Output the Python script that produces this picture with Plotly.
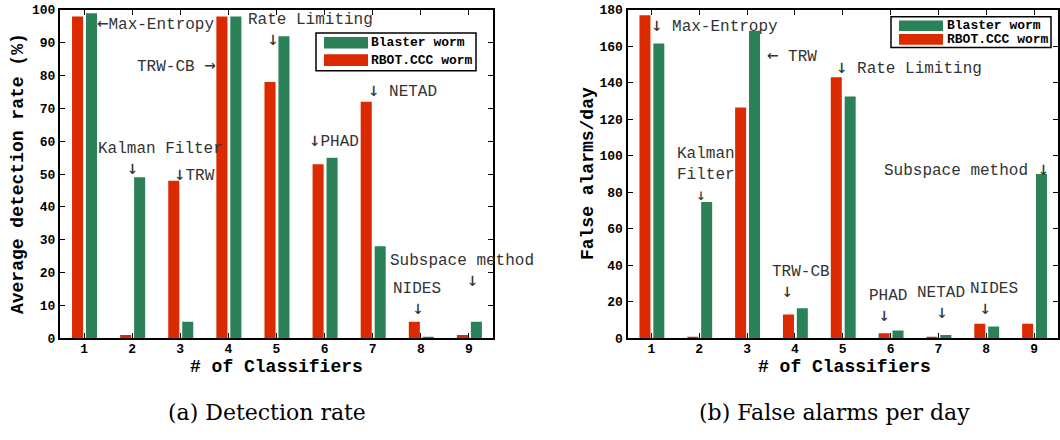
import plotly.graph_objects as go

W, H = 1060, 440

classifiers = [1, 2, 3, 4, 5, 6, 7, 8, 9]
det_rbot = [98, 1, 48, 98, 78, 53, 72, 5, 1]
det_blaster = [99, 49, 5, 98, 92, 55, 28, 0.3, 5]
fa_rbot = [177, 0.5, 126.5, 13, 143, 2.7, 0.8, 8, 8]
fa_blaster = [161.5, 74.7, 168.5, 16.5, 132.5, 4.3, 1.8, 6.5, 90]

series_names = ["Blaster worm", "RBOT.CCC worm"]
captions = ["(a) Detection rate", "(b) False alarms per day"]

RED = "#dc2a00"
GREEN = "#2b8259"
MONO = "Liberation Mono, Courier New, monospace"
ARROWFONT = "DejaVu Sans Mono"
SERIF = "DejaVu Serif, Liberation Serif, serif"
NB = "\u00a0"


def px(x, y):
    return x / W, 1 - y / H


fig = go.Figure()

for xa, ya, rbot, blaster in [("x", "y", det_rbot, det_blaster), ("x2", "y2", fa_rbot, fa_blaster)]:
    fig.add_trace(go.Bar(x=classifiers, y=rbot, offset=-0.25, width=0.23, marker_color=RED,
                         marker_line_width=0, xaxis=xa, yaxis=ya, showlegend=False, name=series_names[1]))
    fig.add_trace(go.Bar(x=classifiers, y=blaster, offset=0.04, width=0.23, marker_color=GREEN,
                         marker_line_width=0, xaxis=xa, yaxis=ya, showlegend=False, name=series_names[0]))

ydom = [1 - 344 / H, 1 - 4 / H]
axis_common = dict(showline=True, linecolor="black", linewidth=2, mirror="ticks", ticks="inside",
                   ticklen=5, tickwidth=1, tickcolor="black", showgrid=False, zeroline=False,
                   ticklabeloverflow="allow",
                   tickfont=dict(family=MONO, size=13, color="black", weight="bold"))

fig.update_layout(
    width=W, height=H, margin=dict(l=0, r=0, t=0, b=0),
    paper_bgcolor="white", plot_bgcolor="white", barmode="overlay",
    xaxis=dict(domain=[60 / W, 493 / W], range=[0.5, 9.5], tickvals=classifiers, anchor="y",
               ticklabelstandoff=-3, **axis_common),
    yaxis=dict(domain=ydom, range=[0, 100], tickvals=list(range(0, 101, 10)), anchor="x", **axis_common),
    xaxis2=dict(domain=[627.5 / W, 1058 / W], range=[0.5, 9.5], tickvals=classifiers, anchor="y2",
                ticklabelstandoff=-3, **axis_common),
    yaxis2=dict(domain=ydom, range=[0, 180], tickvals=list(range(0, 181, 20)), anchor="x2", **axis_common),
)

annotations = []
shapes = []


def arrows(text, asize):
    for a in "←→↓":
        text = text.replace(a, f'<span style="font-family:{ARROWFONT};font-size:{asize}px">{a}</span>')
    return text


def note(text, x, y, anchor="left", size=16, color="#333333", family=MONO, weight="normal", angle=0,
         align="left", asize=19):
    xp, yp = px(x, y)
    annotations.append(dict(text=arrows(text, asize), x=xp, y=yp, xref="paper", yref="paper", xanchor=anchor,
                            yanchor="middle", showarrow=False, textangle=angle, align=align,
                            font=dict(family=family, size=size, color=color, weight=weight)))


def down(label, spaces):
    return label + "<br>" + NB * spaces + "↓"


# Left chart labels
note("←Max-Entropy", 95, 17)
note("TRW-CB →", 218, 61, anchor="right")
note(down("Rate Limiting", 2), 246, 25)
note(down("Kalman Filter", 3), 96, 158.5)
note("↓TRW", 172, 173)
note("↓PHAD", 307, 138)
note("↓ NETAD", 366, 86)
note(down("Subspace method", 8), 388, 274.5)
note(down("NIDES", 2), 391, 304)

# Right chart labels
note("↓ Max-Entropy", 649, 19)
note("← TRW", 765, 50)
note("↓ Rate Limiting", 834, 63)
note("Kalman<br>Filter<br>" + NB * 2 + "↓", 675, 175, asize=16)
note(down("TRW-CB", 1), 770, 286)
note("Subspace method ↓", 1051, 168, anchor="right")
note(down("PHAD", 1), 867, 311)
note(down("NETAD", 2), 915, 307.5)
note(down("NIDES", 1), 968, 304)

# Axis titles
note("Average detection rate (%)", 18, 174, anchor="center", size=18, color="black", weight="bold", angle=-90)
note("# of Classifiers", 276, 374, anchor="center", size=18, color="black", weight="bold")
note("False alarms/day", 588, 174, anchor="center", size=18, color="black", weight="bold", angle=-90)
note("# of Classifiers", 844, 374, anchor="center", size=18, color="black", weight="bold")

# Captions
note(captions[0], 267, 421, anchor="center", size=22, color="black", family=SERIF)
note(captions[1], 834, 421, anchor="center", size=22, color="black", family=SERIF)


# Custom legends
def legend(box, sw_x, rows, text_x):
    x0, y0 = px(box[0], box[1])
    x1, y1 = px(box[2], box[3])
    shapes.append(dict(type="rect", xref="paper", yref="paper", x0=x0, y0=y1, x1=x1, y1=y0,
                       line=dict(color="black", width=1.5), fillcolor="white", layer="above"))
    for (name, color, ya, yb) in rows:
        a0, b0 = px(sw_x[0], ya)
        a1, b1 = px(sw_x[1], yb)
        shapes.append(dict(type="rect", xref="paper", yref="paper", x0=a0, y0=b1, x1=a1, y1=b0,
                           line=dict(width=0), fillcolor=color, layer="above"))
        note(name, text_x, (ya + yb) / 2, size=13, color="black", weight="bold")


legend((316, 28, 476, 67), (324, 368),
       [(series_names[0], GREEN, 32, 44), (series_names[1], RED, 50, 62)], 369)
legend((891, 11, 1051, 43), (899, 943),
       [(series_names[0], GREEN, 15, 26), (series_names[1], RED, 29, 40)], 945)

fig.update_layout(annotations=annotations, shapes=shapes)
fig.write_html("out.html", config={"displayModeBar": False},
               post_script="document.body.style.margin='0';document.body.style.padding='0';")
